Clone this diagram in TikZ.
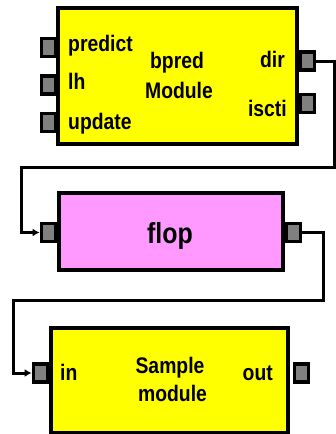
\documentclass[tikz,border=0pt]{standalone}
\usepackage{fontspec}
\setmainfont[FakeStretch=0.86]{Liberation Sans}
\usetikzlibrary{arrows.meta}
\definecolor{portgray}{HTML}{808080}
\definecolor{modyellow}{HTML}{FFFF00}
\definecolor{modpink}{HTML}{FF99FF}
\begin{document}
\begin{tikzpicture}[x=1pt,y=-1pt,
  modbox/.style={draw=black, line width=4pt, inner sep=0pt},
  port/.style={draw=black, fill=portgray, line width=3.8pt, minimum width=14pt, minimum height=18pt, inner sep=0pt},
  wire/.style={line width=3pt, draw=black},
  arrowwire/.style={wire, -{Latex[length=7pt,width=8pt]}},
  lbl/.style={font=\fontsize{22.5}{27}\selectfont\bfseries, inner sep=0pt}]
\useasboundingbox (0,0) rectangle (336,434);
% modules
\node[modbox, fill=modyellow, minimum width=239pt, minimum height=136pt] (bpred) at (177.5,76) {};
\node[modbox, fill=modpink, minimum width=224pt, minimum height=77pt] (flop) at (171,231.5) {};
\node[modbox, fill=modyellow, minimum width=237pt, minimum height=105pt] (sample) at (169.5,380.5) {};
% ports
\node[port] (ppredict) at (48.5,47.5) {};
\node[port] (plh) at (48.5,85) {};
\node[port] (pupdate) at (48.5,122.5) {};
\node[port] (pdir) at (307.5,61) {};
\node[port] (piscti) at (307.5,103.5) {};
\node[port] (pflopin) at (48.5,232.5) {};
\node[port] (pflopout) at (293.5,232.5) {};
\node[port] (pin) at (40.5,373) {};
\node[port] (pout) at (301.5,373) {};
% wire corners
\coordinate (c1) at (334,167);
\coordinate (c2) at (21,232.5);
\coordinate (c3) at (323,300);
\coordinate (c4) at (13,373);
% wires
\draw[arrowwire] (pdir.east) -| (c1) -| (c2) -- (pflopin.west);
\draw[arrowwire] (pflopout.east) -| (c3) -| (c4) -- (pin.west);
% labels
\node[lbl, anchor=base west] (tpredict) at (68,51) {predict};
\node[lbl, anchor=base west] (tlh) at (68,89) {lh};
\node[lbl, anchor=base west] (tupdate) at (68,129) {update};
\node[lbl, anchor=base east] (tdir) at (285,67.5) {dir};
\node[lbl, anchor=base east] (tiscti) at (287,116) {iscti};
\node[lbl, anchor=base] (tbpred) at (177,68) {bpred};
\node[lbl, anchor=base] (tmodule) at (179,98) {Module};
\node[font=\fontsize{29}{34}\selectfont\bfseries, inner sep=0pt, anchor=base] (tflop) at (170,243) {flop};
\node[lbl, anchor=base west] (tin) at (60,380) {in};
\node[lbl, anchor=base] (tsample) at (170,373) {Sample};
\node[lbl, anchor=base] (tmod2) at (172.5,401.5) {module};
\node[lbl, anchor=base east] (tout) at (273,380) {out};
\end{tikzpicture}
\end{document}
